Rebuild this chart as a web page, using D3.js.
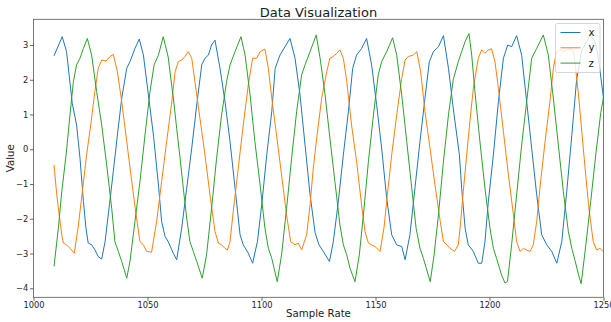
<!DOCTYPE html>
<html>
<head>
<meta charset="utf-8">
<script src="https://cdn.jsdelivr.net/npm/d3@7"></script>
<style>
  html, body { margin: 0; padding: 0; background: #fff; }
  svg { display: block; font-family: "DejaVu Sans", sans-serif; }
</style>
</head>
<body>
<svg id="chart" width="611" height="322"></svg>
<script>
// ---- data ----
const seriesNames = ["x", "y", "z"];
const seriesColors = ["#1f77b4", "#ff7f0e", "#2ca02c"];
const xTicks = [1000, 1050, 1100, 1150, 1200, 1250];
const yTicks = [-4, -3, -2, -1, 0, 1, 2, 3];

const xSamples = [1009.0,1012.6,1014.5,1017.0,1018.9,1020.4,1021.9,1023.0,1024.0,1025.5,1027.0,1028.4,1029.9,1031.4,1033.3,1035.0,1036.8,1038.7,1040.9,1042.3,1044.5,1046.4,1048.2,1050.4,1052.6,1054.8,1056.2,1057.7,1059.1,1061.3,1062.8,1065.0,1067.2,1069.4,1071.6,1073.8,1075.2,1076.7,1078.1,1079.6,1081.8,1084.0,1086.2,1088.4,1090.6,1092.0,1094.2,1096.1,1098.2,1100.1,1102.3,1104.5,1106.0,1108.1,1110.3,1112.5,1114.7,1116.9,1119.1,1121.3,1123.5,1125.2,1127.1,1129.8,1131.5,1133.7,1135.9,1138.1,1140.0,1141.7,1143.9,1146.1,1148.3,1150.5,1152.7,1154.9,1157.1,1159.3,1161.5,1163.0,1165.1,1167.3,1169.5,1171.7,1173.6,1175.4,1177.6,1179.8,1182.0,1184.1,1186.8,1187.8,1189.3,1190.7,1192.9,1195.1,1196.6,1198.0,1199.5,1201.7,1203.9,1206.1,1208.0,1209.7,1211.9,1214.1,1216.3,1218.5,1220.7,1222.9,1225.1,1227.3,1229.5,1231.7,1233.9,1236.1,1238.2,1240.4,1242.6,1244.3,1246.3,1247.7,1250.0];
const xValues = [2.69,3.24,2.81,1.32,0.70,-0.26,-1.5,-2.27,-2.70,-2.75,-2.9,-3.09,-3.16,-2.66,-1.6,-0.64,0.41,1.47,2.33,2.52,2.9,3.17,2.71,1.56,0.41,-1.03,-2.08,-2.51,-2.66,-2.99,-3.18,-2.27,-1.12,0.03,1.28,2.43,2.62,2.71,3.0,3.14,2.33,1.37,0.22,-1.12,-2.46,-2.75,-2.99,-3.28,-2.66,-1.6,-0.16,1.08,2.33,2.71,2.95,3.19,2.62,1.56,0.12,-1.31,-2.4,-2.75,-2.94,-3.23,-2.66,-1.5,-0.16,1.08,2.33,2.71,2.9,3.19,2.43,1.28,0.03,-1.41,-2.46,-2.75,-2.8,-3.18,-2.46,-1.12,0.22,1.47,2.52,2.81,2.95,3.27,2.33,1.18,-0.16,-1.12,-2.27,-2.75,-2.94,-3.28,-3.28,-2.66,-1.5,-0.16,1.37,2.62,3.0,2.95,3.27,2.71,1.37,0.03,-1.31,-2.46,-2.75,-2.94,-3.28,-2.66,-1.2,0.4,2.0,2.83,3.1,3.29,3.1,2.65,1.47];

const ySamples = [1009.0,1010.2,1011.3,1012.4,1013.1,1014.5,1016.0,1017.9,1019.7,1021.6,1023.3,1025.1,1026.9,1028.4,1029.9,1031.8,1033.6,1035.0,1036.8,1038.7,1040.9,1043.1,1045.0,1046.7,1048.2,1049.6,1051.8,1054.0,1056.2,1058.4,1060.6,1062.1,1063.5,1065.0,1066.4,1067.9,1069.4,1070.8,1073.0,1075.2,1077.4,1079.6,1081.1,1082.5,1084.0,1085.0,1086.2,1087.6,1089.8,1092.0,1094.2,1096.1,1097.9,1099.4,1101.5,1103.0,1104.5,1106.6,1108.8,1111.0,1112.8,1114.7,1116.1,1117.6,1119.8,1121.3,1122.7,1124.2,1126.4,1128.6,1130.0,1131.5,1133.0,1134.4,1135.9,1137.4,1139.5,1141.7,1143.9,1145.4,1146.9,1148.3,1149.8,1152.0,1153.7,1155.2,1157.1,1159.3,1161.5,1163.0,1164.4,1166.6,1168.1,1169.8,1171.7,1173.9,1176.1,1178.4,1179.8,1181.3,1182.7,1184.7,1186.3,1187.1,1188.5,1190.0,1191.4,1192.9,1195.1,1196.6,1198.0,1199.5,1200.9,1202.4,1203.9,1206.1,1208.3,1210.5,1211.9,1213.4,1214.9,1216.3,1217.8,1219.2,1220.7,1222.3,1224.2,1226.5,1228.0,1229.4,1230.9,1232.3,1233.8,1235.3,1236.7,1237.3,1239.0,1240.5,1242.0,1243.6,1245.5,1247.0,1248.4,1250.0];
const yValues = [-0.45,-1.31,-1.89,-2.46,-2.70,-2.75,-2.85,-2.99,-2.18,-1.12,-0.16,0.70,1.66,2.33,2.57,2.54,2.67,2.73,2.23,1.37,0.22,-0.93,-1.89,-2.66,-2.75,-2.94,-2.96,-2.08,-0.93,0.22,1.33,2.23,2.52,2.57,2.67,2.81,2.62,1.95,0.89,-0.16,-1.31,-2.37,-2.70,-2.75,-2.85,-2.90,-2.66,-1.79,-0.55,0.70,1.85,2.62,2.62,2.81,2.88,2.33,1.47,0.41,-0.74,-1.89,-2.66,-2.75,-2.70,-2.90,-2.46,-1.6,-0.55,0.32,1.47,2.23,2.62,2.67,2.76,2.86,2.62,1.95,0.70,-0.35,-1.6,-2.37,-2.70,-2.75,-2.80,-2.94,-2.27,-1.31,-0.16,0.99,2.04,2.57,2.67,2.71,2.81,2.23,1.08,0.03,-1.03,-2.08,-2.66,-2.75,-2.85,-2.94,-2.75,-2.27,-1.22,-0.16,0.80,1.75,2.62,2.86,2.76,2.86,2.89,2.52,1.75,0.51,-0.74,-1.89,-2.66,-2.94,-2.85,-2.90,-2.94,-2.75,-2.08,-1.0,0.12,1.37,2.33,2.81,2.86,2.81,2.86,2.91,2.81,2.6,1.6,0.5,-0.6,-1.7,-2.66,-2.9,-2.85,-2.95];

const zSamples = [1009.0,1010.9,1012.4,1014.3,1016.0,1017.5,1018.9,1020.4,1021.9,1023.6,1025.5,1027.7,1029.9,1032.1,1034.3,1035.7,1037.2,1038.7,1040.9,1042.3,1044.5,1046.7,1048.9,1051.1,1052.9,1054.8,1056.9,1059.1,1060.3,1061.3,1062.8,1064.3,1065.7,1067.2,1068.6,1070.1,1071.6,1074.0,1075.9,1078.1,1080.3,1082.5,1084.7,1086.2,1088.4,1091.0,1092.8,1095.0,1097.1,1099.4,1101.5,1103.0,1104.5,1106.9,1108.8,1111.0,1113.2,1115.4,1117.6,1119.1,1121.3,1124.0,1125.7,1127.9,1130.0,1132.2,1134.4,1135.9,1137.4,1138.8,1141.0,1142.9,1144.7,1146.9,1149.1,1151.2,1152.7,1154.9,1157.5,1159.3,1161.5,1163.7,1165.9,1167.8,1169.5,1171.0,1174.0,1175.7,1177.6,1179.8,1182.0,1184.1,1186.3,1187.8,1189.3,1191.0,1192.2,1193.6,1195.8,1198.0,1200.2,1201.7,1203.1,1205.3,1206.8,1207.9,1209.7,1211.9,1214.1,1216.3,1218.5,1220.7,1223.6,1225.8,1228.0,1230.2,1232.4,1234.6,1236.1,1237.5,1239.0,1240.2,1242.0,1244.4,1246.6,1248.8,1250.0];
const zValues = [-3.37,-2.27,-1.22,-0.16,0.99,1.95,2.43,2.62,2.9,3.19,2.71,1.66,0.70,-0.45,-1.7,-2.66,-2.94,-3.23,-3.71,-3.23,-2.08,-0.93,0.41,1.66,2.43,2.71,3.24,2.65,2.0,1.5,0.60,-0.26,-1.12,-1.98,-2.66,-2.94,-3.23,-3.71,-3.04,-1.7,-0.26,0.99,1.95,2.43,2.81,3.24,2.71,1.56,0.22,-1.03,-2.27,-2.85,-3.14,-3.81,-3.04,-1.7,-0.26,1.08,2.14,2.43,2.81,3.29,2.62,1.56,0.32,-0.93,-2.18,-2.75,-3.04,-3.42,-3.81,-3.04,-1.89,-0.35,0.99,2.14,2.52,2.81,3.21,2.71,1.56,0.22,-1.12,-2.27,-2.85,-3.14,-3.81,-3.04,-1.89,-0.35,0.99,2.0,2.52,2.81,3.1,3.33,2.71,1.66,0.22,-1.12,-2.27,-2.85,-3.14,-3.62,-3.85,-3.80,-2.75,-1.31,0.12,1.37,2.62,2.9,3.29,2.71,1.47,0.12,-1.22,-2.37,-2.85,-3.2,-3.6,-3.87,-2.9,-1.5,-0.16,1.05,1.5];

// ---- layout ----
const plot = { left: 33.5, right: 603.5, top: 19.3, bottom: 297.3 };

const svg = d3.select("#chart");

const x = d3.scaleLinear().domain([1000, 1250]).range([plot.left, plot.right]);
const y = d3.scaleLinear().domain([-4.26, 3.74]).range([plot.bottom, plot.top]);

svg.append("defs").append("clipPath").attr("id", "clip")
  .append("rect")
  .attr("x", plot.left).attr("y", plot.top)
  .attr("width", plot.right - plot.left).attr("height", plot.bottom - plot.top);

const series = [
  { name: seriesNames[0], color: seriesColors[0], pts: xSamples.map((s, i) => [s, xValues[i]]) },
  { name: seriesNames[1], color: seriesColors[1], pts: ySamples.map((s, i) => [s, yValues[i]]) },
  { name: seriesNames[2], color: seriesColors[2], pts: zSamples.map((s, i) => [s, zValues[i]]) }
];

const line = d3.line().x(d => x(d[0])).y(d => y(d[1]));

svg.append("g").attr("clip-path", "url(#clip)")
  .selectAll("path").data(series).join("path")
  .attr("d", d => line(d.pts))
  .attr("fill", "none")
  .attr("stroke", d => d.color)
  .attr("stroke-width", 1)
  .attr("stroke-linejoin", "round");

// axes
const tickFont = 8.3;
const xAxis = svg.append("g").attr("transform", `translate(0,${plot.bottom})`)
  .call(d3.axisBottom(x).tickValues(xTicks).tickFormat(d3.format("d")).tickSize(3.5).tickPadding(1.5));
const yAxis = svg.append("g").attr("transform", `translate(${plot.left},0)`)
  .call(d3.axisLeft(y).tickValues(yTicks).tickFormat(d3.format("d")).tickSize(3.5).tickPadding(1.8));
[xAxis, yAxis].forEach(g => {
  g.select(".domain").remove();
  g.selectAll(".tick line").attr("stroke", "#444").attr("stroke-width", 0.8);
  g.selectAll(".tick text").attr("fill", "#262626").attr("font-size", tickFont)
    .attr("font-family", "DejaVu Sans");
});

// frame
svg.append("rect")
  .attr("x", plot.left).attr("y", plot.top)
  .attr("width", plot.right - plot.left).attr("height", plot.bottom - plot.top)
  .attr("fill", "none").attr("stroke", "#555").attr("stroke-width", 0.8);

// labels
svg.append("text").attr("x", (plot.left + plot.right) / 2).attr("y", 16.8)
  .attr("text-anchor", "middle").attr("font-size", 13).attr("fill", "#1a1a1a")
  .text("Data Visualization");
svg.append("text").attr("x", (plot.left + plot.right) / 2).attr("y", 317)
  .attr("text-anchor", "middle").attr("font-size", 10.2).attr("fill", "#1a1a1a")
  .text("Sample Rate");
svg.append("text").attr("transform", `translate(13.8,${(plot.top + plot.bottom) / 2}) rotate(-90)`)
  .attr("text-anchor", "middle").attr("font-size", 10.2).attr("fill", "#1a1a1a")
  .text("Value");

// legend
const lg = svg.append("g").attr("transform", "translate(555.5,23.5)");
lg.append("rect").attr("width", 44.5).attr("height", 49).attr("rx", 2)
  .attr("fill", "#fff").attr("fill-opacity", 0.8).attr("stroke", "#ccc").attr("stroke-width", 0.8);
series.forEach((s, i) => {
  const yy = 9 + i * 15.3;
  lg.append("line").attr("x1", 5).attr("x2", 25).attr("y1", yy).attr("y2", yy)
    .attr("stroke", s.color).attr("stroke-width", 1);
  lg.append("text").attr("x", 33).attr("y", yy).attr("dy", "0.35em")
    .attr("font-size", 10.2).attr("fill", "#1a1a1a").text(s.name);
});
</script>
</body>
</html>
